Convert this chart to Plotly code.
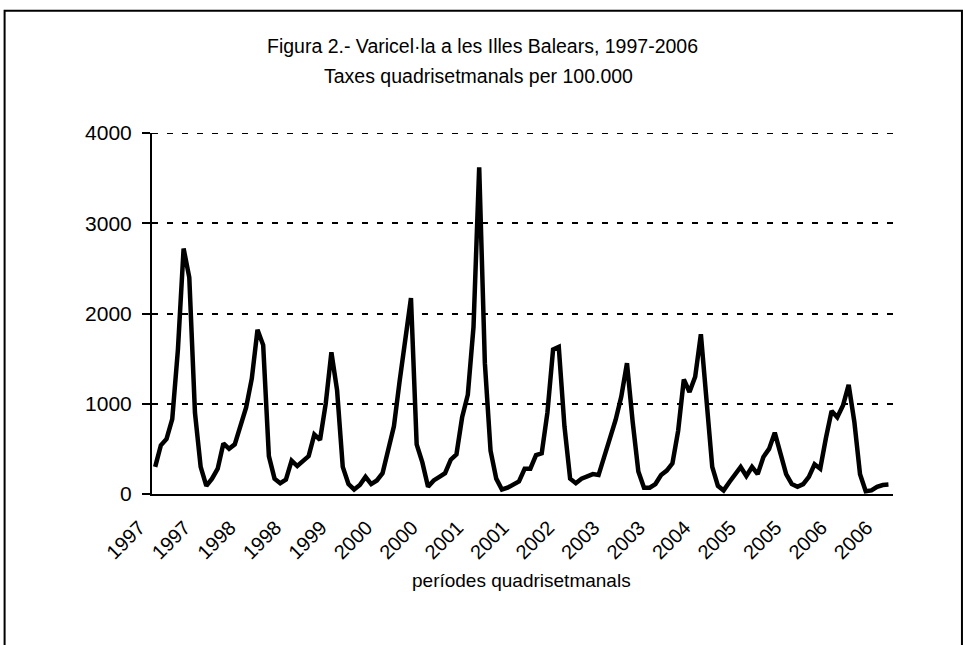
import plotly.graph_objects as go

# four-week period rates per 100,000 (13 periods per year, 1997-2006)
rates = [
    300, 540, 610, 830, 1600, 2720, 2400, 900, 300, 90,
    170, 280, 560, 500, 550, 740, 960, 1280, 1820, 1650,
    420, 170, 120, 160, 370, 310, 360, 420, 660, 600,
    1000, 1570, 1150, 300, 110, 50, 100, 190, 110, 150,
    230, 500, 750, 1250, 1700, 2170, 550, 350, 80, 150,
    190, 230, 380, 440, 850, 1100, 1850, 3620, 1450, 480,
    170, 50, 70, 110, 140, 280, 280, 430, 450, 900,
    1600, 1630, 750, 170, 120, 170, 200, 220, 210, 420,
    620, 820, 1080, 1450, 800, 250, 70, 70, 110, 210,
    260, 340, 700, 1270, 1130, 1300, 1770, 1100, 300, 90,
    40, 130, 210, 300, 200, 300, 220, 410, 500, 680,
    450, 220, 110, 80, 110, 190, 330, 280, 620, 920,
    850, 980, 1210, 800, 220, 30, 40, 80, 100, 105,
]
period_index = list(range(len(rates)))

tick_positions = list(range(0, 130, 8))
tick_labels = ["1997", "1997", "1998", "1998", "1999", "2000", "2000", "2001", "2001",
               "2002", "2003", "2003", "2004", "2005", "2005", "2006", "2006"]
y_ticks = [0, 1000, 2000, 3000, 4000]

title_line1 = "Figura 2.- Varicel·la a les Illes Balears, 1997-2006"
title_line2 = "Taxes quadrisetmanals per 100.000"
x_title = "períodes quadrisetmanals"

W, H = 965, 645
L, R, T, B = 151.5, 893.0, 132.5, 494.0
pw, ph = R - L, B - T

def px(x):
    return (x - L) / pw

def py(y):
    return (B - y) / ph

FONT = "Liberation Sans, Arial, sans-serif"
DASH = "6px,9px"

fig = go.Figure()
fig.add_trace(go.Scatter(
    x=period_index, y=rates, mode="lines",
    line=dict(color="black", width=4.5),
    hoverinfo="skip", showlegend=False,
))

fig.update_layout(
    width=W, height=H,
    margin=dict(l=L, r=W - R, t=T, b=H - B, pad=0),
    paper_bgcolor="white", plot_bgcolor="white",
    font=dict(family=FONT, size=20, color="black"),
    xaxis=dict(
        range=[-0.56, 129.8], tickmode="array",
        tickvals=tick_positions, ticktext=tick_labels,
        tickangle=-45, showgrid=False, zeroline=False,
        showline=True, linecolor="black", linewidth=2,
        ticks="outside", ticklen=6, tickcolor="rgba(0,0,0,0)",
        ticklabelshift=-16, ticklabelstandoff=6,
        tickfont=dict(size=20),
    ),
    yaxis=dict(
        range=[0, 4000], tickvals=y_ticks,
        showgrid=True, gridcolor="black", gridwidth=2, griddash=DASH,
        zeroline=False, showline=True, linecolor="black", linewidth=2,
        ticks="outside", ticklen=8, tickwidth=2, tickcolor="black",
        ticklabelstandoff=6,
        tickfont=dict(size=21),
    ),
    shapes=[
        dict(type="rect", xref="paper", yref="paper",
             x0=px(4), x1=px(962), y0=py(660), y1=py(10),
             line=dict(color="black", width=2), fillcolor="rgba(0,0,0,0)",
             layer="below"),
        dict(type="line", xref="paper", yref="y",
             x0=0, x1=1, y0=y_ticks[-1], y1=y_ticks[-1],
             line=dict(color="black", width=2, dash=DASH), layer="below"),
    ],
    annotations=[
        dict(text=title_line1, xref="paper", yref="paper",
             x=px(482), y=py(45), showarrow=False,
             xanchor="center", yanchor="middle", font=dict(size=19.5)),
        dict(text=title_line2, xref="paper", yref="paper",
             x=px(478), y=py(75), showarrow=False,
             xanchor="center", yanchor="middle", font=dict(size=19.5)),
        dict(text=x_title, xref="paper", yref="paper",
             x=px(521), y=py(581), showarrow=False,
             xanchor="center", yanchor="middle", font=dict(size=19)),
    ],
)

fig.write_html("out.html", config={"displayModeBar": False},
               post_script="document.body.style.margin='0';")
